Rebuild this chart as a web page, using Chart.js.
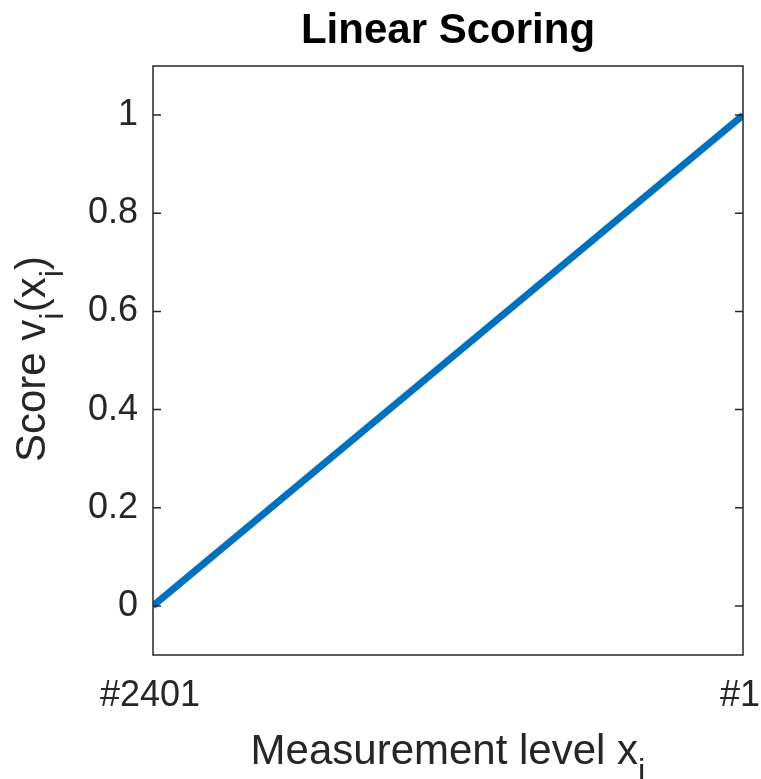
<!DOCTYPE html>
<html>
<head>
<meta charset="utf-8">
<script src="https://cdn.jsdelivr.net/npm/chart.js@4"></script>
<style>
  body { margin: 0; background: #fff; }
  #wrap { width: 761px; height: 779px; }
</style>
</head>
<body>
<div id="wrap"><canvas id="myChart"></canvas></div>
<script>
// data
const levels = ['#2401', '#1'];      // x categories
const scores = [0, 1];               // score v_i(x_i)
const yTicks = [0, 0.2, 0.4, 0.6, 0.8, 1];

const axisColor = '#262626';
const fontFamily = '"Liberation Sans", Arial, Helvetica, sans-serif';

// draws the box, inward tick marks, title and axis titles with subscripts
const matlabAxes = {
  id: 'matlabAxes',
  afterDraw(chart) {
    const ctx = chart.ctx;
    const a = chart.chartArea;
    const y = chart.scales.y;
    const cx = (a.left + a.right) / 2;
    ctx.save();
    ctx.strokeStyle = axisColor;
    ctx.lineWidth = 1.5;
    ctx.strokeRect(a.left, a.top, a.right - a.left, a.bottom - a.top);
    ctx.beginPath();
    yTicks.forEach(v => {
      const py = y.getPixelForValue(v);
      ctx.moveTo(a.left, py); ctx.lineTo(a.left + 8, py);
      ctx.moveTo(a.right, py); ctx.lineTo(a.right - 8, py);
    });
    ctx.stroke();

    // title
    ctx.fillStyle = '#000';
    ctx.font = 'bold 42px ' + fontFamily;
    ctx.textAlign = 'center';
    ctx.textBaseline = 'alphabetic';
    ctx.fillText('Linear Scoring', cx, 43);

    // axis titles: parts of [text, isSubscript]
    const drawParts = (parts, mid, baseline) => {
      const big = '42px ' + fontFamily, small = '33px ' + fontFamily;
      let total = 0;
      parts.forEach(p => { ctx.font = p[1] ? small : big; total += ctx.measureText(p[0]).width; });
      let x = mid - total / 2;
      ctx.fillStyle = axisColor;
      ctx.textBaseline = 'alphabetic';
      ctx.textAlign = 'left';
      parts.forEach(p => {
        ctx.font = p[1] ? small : big;
        ctx.fillText(p[0], x, baseline + (p[1] ? 18 : 0));
        x += ctx.measureText(p[0]).width;
      });
    };
    drawParts([['Measurement level x', false], ['i', true]], cx, 764);
    ctx.translate(45, 359);
    ctx.rotate(-Math.PI / 2);
    drawParts([['Score v', false], ['i', true], ['(x', false], ['i', true], [')', false]], 0, 0);
    ctx.restore();
  }
};

new Chart(document.getElementById('myChart'), {
  type: 'line',
  data: {
    labels: levels,
    datasets: [{
      data: scores,
      borderColor: '#0072BD',
      borderWidth: 7,
      pointRadius: 0,
      fill: false,
      clip: 0
    }]
  },
  options: {
    responsive: true,
    maintainAspectRatio: false,
    animation: false,
    layout: { padding: { left: 0, right: 18, top: 66, bottom: 0 } },
    plugins: {
      legend: { display: false },
      tooltip: { enabled: false },
      title: { display: false }
    },
    scales: {
      x: {
        type: 'category',
        offset: false,
        grid: { display: false, drawTicks: false },
        border: { display: false },
        ticks: {
          color: axisColor,
          font: { family: fontFamily, size: 36 },
          padding: 19,
          labelOffset: -3,
          maxRotation: 0,
          autoSkip: false
        },
        afterFit(scale) {
          scale.height = 124;
          scale.paddingLeft = 0;
          scale.paddingRight = 0;
        }
      },
      y: {
        min: -0.1,
        max: 1.1,
        grid: { display: false, drawTicks: false },
        border: { display: false },
        afterBuildTicks(scale) { scale.ticks = yTicks.map(v => ({ value: v })); },
        ticks: {
          color: axisColor,
          font: { family: fontFamily, size: 36 },
          padding: 15,
          callback: v => String(v)
        },
        afterFit(scale) {
          scale.width = 153;
          scale.paddingTop = 0;
          scale.paddingBottom = 0;
        }
      }
    }
  },
  plugins: [matlabAxes]
});
</script>
</body>
</html>
